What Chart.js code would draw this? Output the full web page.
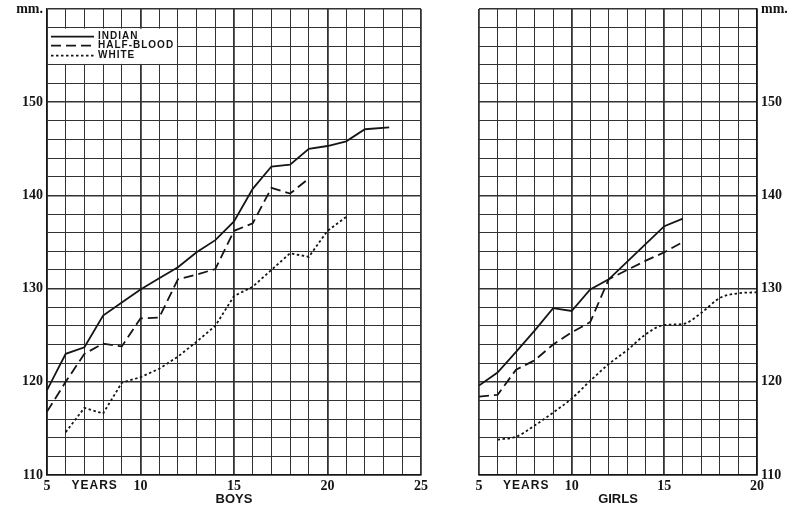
<!DOCTYPE html>
<html>
<head>
<meta charset="utf-8">
<script src="https://cdn.jsdelivr.net/npm/chart.js@4.4.1/dist/chart.umd.min.js"></script>
<style>
	html, body { margin: 0; padding: 0; background: #fff; }
	#wrap { position: relative; width: 800px; height: 510px; }
	#boys-chart { position: absolute; left: 0; top: 0; }
	#girls-chart { position: absolute; left: 440px; top: 0; }
</style>
</head>
<body>
<div id="wrap">
	<canvas id="boys-chart" width="440" height="510"></canvas>
	<canvas id="girls-chart" width="360" height="510"></canvas>
</div>
<script>
// tick labels
const yLabels = [110, 120, 130, 140, 150];
const yUnit = 'mm.';
const boysXLabels = [5, 10, 15, 20, 25];
const girlsXLabels = [5, 10, 15, 20];
const seriesNames = ['INDIAN', 'HALF-BLOOD', 'WHITE'];

// boys
const boysIndianAge = [5, 6, 7, 8, 9, 10, 11, 12, 13, 14, 15, 16, 17, 18, 19, 20, 21, 22, 23.3];
const boysIndian = [119.1, 123.0, 123.7, 127.1, 128.5, 129.9, 131.1, 132.3, 133.9, 135.2, 137.2, 140.7, 143.1, 143.3, 145.0, 145.3, 145.8, 147.1, 147.3];
const boysHalfAge = [5, 6, 7, 8, 9, 10, 11, 12, 13, 14, 15, 16, 17, 18, 19];
const boysHalf = [116.8, 120.0, 123.0, 124.1, 123.8, 126.8, 126.9, 131.0, 131.5, 132.1, 136.2, 137.0, 140.8, 140.2, 141.8];
const boysWhiteAge = [6, 7, 8, 9, 10, 11, 12, 13, 14, 15, 16, 17, 18, 19, 20, 21];
const boysWhite = [114.6, 117.2, 116.6, 119.9, 120.5, 121.4, 122.7, 124.3, 126.0, 129.2, 130.2, 132.0, 133.8, 133.4, 136.2, 137.7];

// girls
const girlsIndianAge = [5, 6, 7, 8, 9, 10, 11, 12, 13, 14, 15, 16];
const girlsIndian = [119.6, 121.0, 123.2, 125.5, 127.9, 127.6, 129.9, 131.0, 132.9, 134.8, 136.7, 137.5];
const girlsHalfAge = [5, 6, 7, 8, 9, 10, 11, 12, 13, 14, 15, 16];
const girlsHalf = [118.4, 118.6, 121.3, 122.3, 124.0, 125.3, 126.4, 131.0, 132.0, 133.0, 133.9, 135.0];
const girlsWhiteAge = [6, 7, 8, 9, 10, 11, 12, 13, 14, 15, 16, 17, 18, 19, 20];
const girlsWhite = [113.8, 114.1, 115.3, 116.7, 118.2, 120.1, 121.9, 123.4, 125.1, 126.1, 126.2, 127.4, 129.0, 129.5, 129.6];

const ink = '#151515';
const gridInk = '#333';
const numFont = { family: "'Liberation Serif', serif", size: 14, weight: 'bold' };
const capsFont = "bold 12px 'Liberation Sans', sans-serif";

const styles = [
	{ borderDash: [], borderWidth: 1.8 },
	{ borderDash: [10, 5], borderWidth: 1.8 },
	{ borderDash: [2.5, 2.5], borderWidth: 1.8 }
];

function toPoints(ages, vals) {
	return ages.map((a, i) => ({ x: a, y: vals[i] }));
}

function makeSets(pairs, smoothLast) {
	return pairs.map((p, i) => ({
		label: seriesNames[i],
		data: toPoints(p[0], p[1]),
		borderColor: ink,
		borderWidth: styles[i].borderWidth,
		borderDash: styles[i].borderDash,
		pointRadius: 0,
		fill: false,
		tension: 0,
		cubicInterpolationMode: (smoothLast && i === 2) ? 'monotone' : 'default'
	}));
}

// "YEARS" word under the x axis
const yearsLabel = {
	id: 'yearsLabel',
	afterDraw(chart) {
		const ctx = chart.ctx;
		const x = chart.scales.x.getPixelForValue(7.55);
		ctx.save();
		ctx.font = capsFont;
		ctx.letterSpacing = '1px';
		ctx.fillStyle = ink;
		ctx.textAlign = 'center';
		ctx.textBaseline = 'middle';
		ctx.fillText('YEARS', x, chart.chartArea.bottom + 11);
		ctx.restore();
	}
};

// legend box in the corner of the boys chart
const legendBox = {
	id: 'legendBox',
	beforeDatasetsDraw(chart) {
		const ctx = chart.ctx;
		const xs = chart.scales.x, ys = chart.scales.y;
		const l = xs.getPixelForValue(5) + 1, r = xs.getPixelForValue(12) - 1;
		const t = ys.getPixelForValue(158) + 1, b = ys.getPixelForValue(154) - 1;
		ctx.save();
		ctx.fillStyle = '#fff';
		ctx.fillRect(l, t, r - l, b - t);
		const rows = [t + 8, t + 17, t + 27];
		ctx.font = "bold 10px 'Liberation Sans', sans-serif";
		ctx.letterSpacing = '1px';
		ctx.textBaseline = 'middle';
		rows.forEach((y, i) => {
			ctx.strokeStyle = ink;
			ctx.lineWidth = styles[i].borderWidth;
			ctx.setLineDash(styles[i].borderDash);
			ctx.beginPath();
			ctx.moveTo(l + 3, y);
			ctx.lineTo(l + 46, y);
			ctx.stroke();
			ctx.fillStyle = ink;
			ctx.fillText(seriesNames[i], l + 50, y);
		});
		ctx.restore();
	}
};

function makeOptions(xMax, xLabels, title, yPos) {
	return {
		responsive: false,
		animation: false,
		layout: {
			padding: yPos === 'left'
				? { left: 0, right: 19, top: 9, bottom: 0 }
				: { left: 39, right: 0, top: 9, bottom: 0 }
		},
		plugins: { legend: { display: false }, tooltip: { enabled: false } },
		scales: {
			x: {
				type: 'linear',
				min: 5,
				max: xMax,
				afterFit(scale) {
					scale.height = 35;
					scale.paddingLeft = 0;
					scale.paddingRight = 0;
				},
				border: { display: true, color: ink, width: 1.5 },
				grid: {
					color: gridInk,
					drawTicks: false,
					lineWidth: c => (c.tick && c.tick.value % 5 === 0) ? 1.8 : 1
				},
				ticks: {
					stepSize: 1,
					autoSkip: false,
					maxRotation: 0,
					padding: 3,
					color: ink,
					font: numFont,
					callback: v => xLabels.includes(v) ? v : ''
				},
				title: {
					display: true,
					text: title,
					color: ink,
					font: { family: "'Liberation Sans', sans-serif", size: 13, weight: 'bold' },
					padding: { top: 0, bottom: 3 }
				}
			},
			y: {
				position: yPos,
				min: 110,
				max: 160,
				afterFit(scale) {
					scale.width = yPos === 'left' ? 47 : 43;
					scale.paddingTop = 0;
					scale.paddingBottom = 0;
				},
				border: { display: true, color: ink, width: 1.5 },
				grid: {
					color: gridInk,
					drawTicks: false,
					lineWidth: c => (c.tick && c.tick.value % 10 === 0) ? 1.5 : 1
				},
				ticks: {
					stepSize: 2,
					autoSkip: false,
					padding: 4,
					color: ink,
					font: numFont,
					callback: v => yLabels.includes(v) ? v : (v === 160 ? yUnit : '')
				}
			}
		}
	};
}

document.addEventListener('DOMContentLoaded', () => {
	// Boys
	const boysCtx = document.getElementById('boys-chart');
	new Chart(boysCtx, {
		type: 'line',
		data: {
			datasets: makeSets([
				[boysIndianAge, boysIndian],
				[boysHalfAge, boysHalf],
				[boysWhiteAge, boysWhite]
			], false)
		},
		options: makeOptions(25, boysXLabels, 'BOYS', 'left'),
		plugins: [legendBox, yearsLabel]
	});

	// Girls
	const girlsCtx = document.getElementById('girls-chart');
	new Chart(girlsCtx, {
		type: 'line',
		data: {
			datasets: makeSets([
				[girlsIndianAge, girlsIndian],
				[girlsHalfAge, girlsHalf],
				[girlsWhiteAge, girlsWhite]
			], true)
		},
		options: makeOptions(20, girlsXLabels, 'GIRLS', 'right'),
		plugins: [yearsLabel]
	});
});
</script>
</body>
</html>
